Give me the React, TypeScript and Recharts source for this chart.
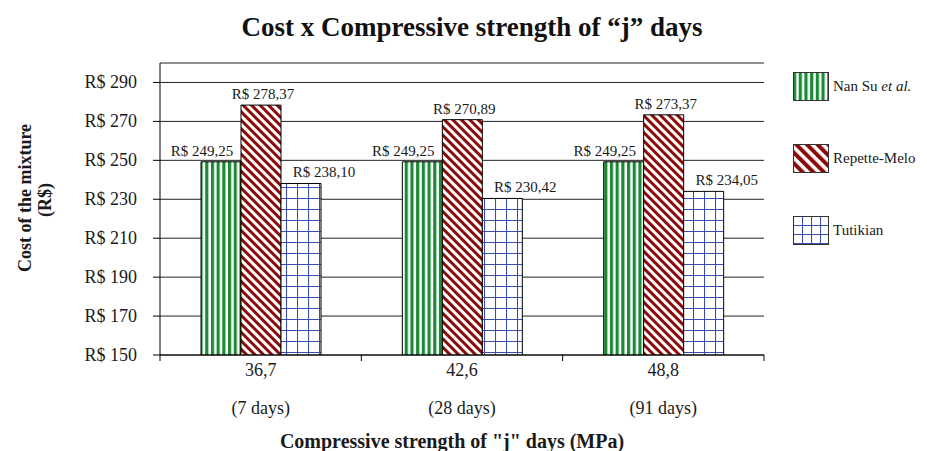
import React from 'react';
import { BarChart, Bar, XAxis, YAxis, CartesianGrid, Legend, LabelList } from 'recharts';

const categories = ['36,7', '42,6', '48,8'];
const ageLabels = ['(7 days)', '(28 days)', '(91 days)'];
const nanSu = [249.25, 249.25, 249.25];
const repetteMelo = [278.37, 270.89, 273.37];
const tutikian = [238.1, 230.42, 234.05];
const yTicks = [150, 170, 190, 210, 230, 250, 270, 290];
const yDomain = [150, 300];

const FONT = "'Liberation Serif', 'Times New Roman', serif";

const data = categories.map((c, i) => ({
  cat: c,
  age: ageLabels[i],
  nanSu: nanSu[i],
  repetteMelo: repetteMelo[i],
  tutikian: tutikian[i],
}));

const fmt = (v: number) => 'R$ ' + v.toFixed(2).replace('.', ',');

const PatternDefs = ({ prefix, big }: { prefix: string; big?: boolean }) => (
  <defs>
    <pattern id={prefix + 'Green'} width="5.7" height="10" patternUnits="userSpaceOnUse">
      <rect width="5.7" height="10" fill="#ffffff" />
      <rect width="3.2" height="10" fill="#1b8a35" />
    </pattern>
    <pattern
      id={prefix + 'Red'}
      width={big ? 7.5 : 6}
      height="10"
      patternUnits="userSpaceOnUse"
      patternTransform="rotate(-45)"
    >
      <rect width={big ? 7.5 : 6} height="10" fill="#ffffff" />
      <rect width={big ? 4 : 3} height="10" fill="#8b0a0a" />
    </pattern>
    <pattern id={prefix + 'Blue'} width={big ? 9 : 11} height={big ? 9 : 11} patternUnits="userSpaceOnUse">
      <rect width={big ? 9 : 11} height={big ? 9 : 11} fill="#ffffff" />
      <path d={big ? 'M0 0.5 H9 M0.5 0 V9' : 'M0 0.5 H11 M0.5 0 V11'} stroke="#3a4db0" strokeWidth="1.1" />
    </pattern>
  </defs>
);

const makeBarLabel = (dx: number) => (props: any) => {
  const { x, y, width, value } = props;
  return (
    <text
      x={Number(x) + Number(width) / 2 + dx}
      y={Number(y) - 11}
      textAnchor="middle"
      dominantBaseline="central"
      style={{ fontFamily: FONT, fontSize: 15 }}
      fill="#1a1a1a"
    >
      {fmt(Number(value))}
    </text>
  );
};

const XTick = (props: any) => {
  const { x, y, payload, index, visibleTicksCount } = props;
  const half = payload && payload.offset ? payload.offset : 100.7;
  const isLast = index === (visibleTicksCount ?? 3) - 1;
  return (
    <g>
      <line x1={x - half} x2={x - half} y1={y} y2={y + 6} stroke="#000" />
      {isLast && <line x1={x + half} x2={x + half} y1={y} y2={y + 6} stroke="#000" />}
      <text x={x} y={y + 15} textAnchor="middle" dominantBaseline="central" style={{ fontFamily: FONT, fontSize: 18 }} fill="#1a1a1a">
        {payload.value}
      </text>
      <text x={x} y={y + 53} textAnchor="middle" dominantBaseline="central" style={{ fontFamily: FONT, fontSize: 18 }} fill="#1a1a1a">
        {ageLabels[index]}
      </text>
    </g>
  );
};

const YTick = (props: any) => {
  const { x, y, payload } = props;
  return (
    <text x={x} y={y} textAnchor="end" dominantBaseline="central" style={{ fontFamily: FONT, fontSize: 18 }} fill="#1a1a1a">
      {'R$ ' + payload.value}
    </text>
  );
};

const YLabel = () => (
  <g>
    <text
      transform="translate(25,198) rotate(-90)"
      textAnchor="middle"
      dominantBaseline="central"
      style={{ fontFamily: FONT, fontSize: 18, fontWeight: 'bold' }}
      fill="#1a1a1a"
    >
      Cost of the mixture
    </text>
    <text
      transform="translate(45,200) rotate(-90)"
      textAnchor="middle"
      dominantBaseline="central"
      style={{ fontFamily: FONT, fontSize: 18, fontWeight: 'bold' }}
      fill="#1a1a1a"
    >
      (R$)
    </text>
  </g>
);

const XLabel = () => (
  <text
    x={452}
    y={441}
    textAnchor="middle"
    dominantBaseline="central"
    style={{ fontFamily: FONT, fontSize: 20, fontWeight: 'bold' }}
    fill="#1a1a1a"
  >
    Compressive strength of "j" days (MPa)
  </text>
);

const legendItems = [
  { key: 'Green', name: 'Nan Su', italic: 'et al.' },
  { key: 'Red', name: 'Repette-Melo', italic: '' },
  { key: 'Blue', name: 'Tutikian', italic: '' },
];

const LegendContent = () => (
  <div style={{ fontFamily: FONT, color: '#1a1a1a' }}>
    {legendItems.map((it, i) => (
      <div key={it.key} style={{ display: 'flex', alignItems: 'center', height: 28, marginBottom: i < 2 ? 44 : 0 }}>
        <svg width={36} height={29} style={{ display: 'block' }}>
          <PatternDefs prefix={'lg' + i} big />
          <rect x={0.5} y={0.5} width={35} height={28} fill={`url(#lg${i}${it.key})`} stroke="#333" />
        </svg>
        <span style={{ marginLeft: 4, fontSize: 15, whiteSpace: 'nowrap' }}>
          {it.name}
          {it.italic && <i> {it.italic}</i>}
        </span>
      </div>
    ))}
  </div>
);

export default function App() {
  return (
    <div style={{ position: 'absolute', left: 0, top: 0, width: 927, height: 451, background: '#fff' }}>
      <div
        style={{
          position: 'absolute',
          left: 0,
          top: 12,
          width: 944,
          textAlign: 'center',
          fontFamily: FONT,
          fontSize: 27,
          fontWeight: 'bold',
          color: '#111',
          lineHeight: '30px',
        }}
      >
        Cost x Compressive strength of “j” days
      </div>
      <BarChart
        width={927}
        height={451}
        data={data}
        margin={{ top: 63, right: 163, left: 0, bottom: 0 }}
        barGap={0}
        barSize={40}
      >
        <PatternDefs prefix="p" />
        <CartesianGrid vertical={false} stroke="#222" strokeOpacity={1} />
        <XAxis
          dataKey="cat"
          height={96}
          interval={0}
          tickLine={false}
          tickSize={0}
          tickMargin={0}
          axisLine={{ stroke: '#000' }}
          tick={<XTick />}
          label={{ content: () => <XLabel /> }}
        />
        <YAxis
          width={160}
          domain={yDomain}
          ticks={yTicks}
          interval={0}
          allowDataOverflow
          tickSize={7}
          tickMargin={16}
          tickLine={{ stroke: '#000' }}
          axisLine={{ stroke: '#000' }}
          tick={<YTick />}
          label={{ content: () => <YLabel /> }}
        />
        <Legend
          layout="vertical"
          align="center"
          verticalAlign="middle"
          content={<LegendContent />}
          wrapperStyle={{ left: 793, top: 72, width: 134 }}
        />
        <Bar dataKey="nanSu" name="Nan Su et al." fill="url(#pGreen)" stroke="#000" strokeWidth={1} isAnimationActive={false}>
          <LabelList dataKey="nanSu" content={makeBarLabel(-19)} />
        </Bar>
        <Bar dataKey="repetteMelo" name="Repette-Melo" fill="url(#pRed)" stroke="#000" strokeWidth={1} isAnimationActive={false}>
          <LabelList dataKey="repetteMelo" content={makeBarLabel(2)} />
        </Bar>
        <Bar dataKey="tutikian" name="Tutikian" fill="url(#pBlue)" stroke="#000" strokeWidth={1} isAnimationActive={false}>
          <LabelList dataKey="tutikian" content={makeBarLabel(23)} />
        </Bar>
      </BarChart>
    </div>
  );
}
